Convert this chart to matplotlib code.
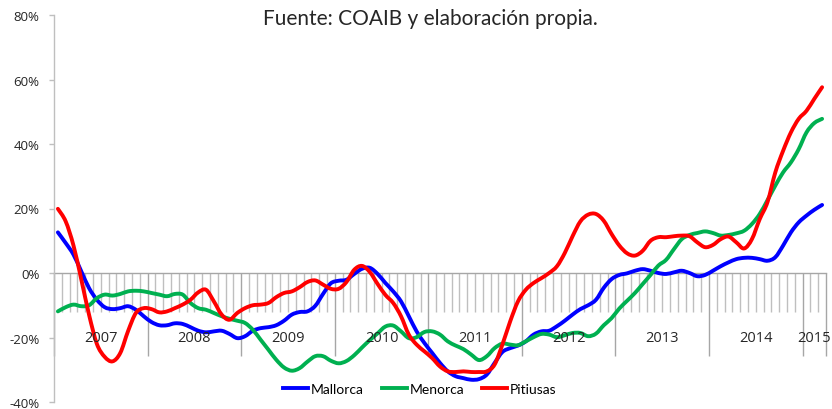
import matplotlib
matplotlib.use('Agg')
import matplotlib.pyplot as plt
import numpy as np
from matplotlib.path import Path
from matplotlib.patches import PathPatch
from matplotlib.lines import Line2D

# ---------------- data ----------------
years = ['2007', '2008', '2009', '2010', '2011', '2012', '2013', '2014', '2015']
months_per_year = [12, 12, 12, 12, 12, 12, 12, 12, 3]

mallorca = [12.6, 9.3, 5.7, 0.5, -4.7, -8.3, -10.6, -11.2, -10.9, -10.3,
            -11.4, -13.4, -15.2, -16.2, -16.2, -15.6, -15.8, -16.8, -17.9, -18.4,
            -18.1, -17.9, -18.9, -20.2, -19.6, -17.9, -17.1, -16.8, -16.2, -14.8,
            -12.9, -12.1, -11.9, -10.2, -6.5,
            -3.2, -2.4, -2.1, -0.3, 1.3, 1.6, -0.3, -3.1, -5.7, -8.8,
            -13.4, -18.1, -21.7, -24.8, -27.9, -30.5, -32.0, -32.6, -33.1, -32.9,
            -31.5, -27.9, -24.5, -23.3, -22.5, -21.2, -19.1, -18.1, -17.9, -16.5,
            -14.8, -12.9, -11.2, -10.0, -8.3, -4.6,
            -1.9, -0.6, -0.1, 0.7, 1.2, 0.7, 0.0, -0.3, 0.2, 0.7,
            0.0, -1.0, -0.6, 0.7, 2.1, 3.3, 4.3, 4.7, 4.7, 4.3,
            3.8, 4.9, 8.5, 12.6, 15.7, 17.8, 19.6, 21.1]

menorca = [-11.9, -10.6, -9.8, -10.3, -10.0, -7.8, -6.7, -7.0, -6.5, -5.7,
           -5.5, -5.7, -6.2, -6.7, -7.2, -6.5, -6.7, -9.3, -10.9, -11.4,
           -12.4, -13.4, -14.2, -14.8, -15.5, -17.6, -20.7, -23.8, -26.9, -29.3,
           -30.3, -29.5, -27.5, -25.8, -25.8,
           -27.2, -28.0, -27.3, -25.5, -23.1, -20.8, -18.7, -16.6, -16.3, -18.1,
           -20.2, -19.9, -18.3, -18.1, -19.1, -21.2, -22.5, -23.6, -25.3, -27.0,
           -25.8, -23.3, -21.9, -22.2, -22.4, -21.2, -19.9, -18.9, -19.1, -19.9,
           -19.3, -18.6, -18.6, -19.6, -18.8, -16.2,
           -14.0, -11.0, -8.6, -6.2, -3.4, -0.6, 2.3, 4.1, 7.4, 10.5,
           11.8, 12.4, 12.9, 12.4, 11.6, 11.8, 12.3, 13.1, 15.2, 18.3,
           22.6, 27.1, 31.2, 34.3, 38.4, 43.6, 46.5, 47.8]

pitiusas = [19.9, 16.0, 8.5, -2.0, -13.0, -22.0, -26.0, -27.4, -24.8, -18.0,
            -12.4, -10.9, -11.2, -12.2, -11.9, -10.9, -9.8, -8.3, -6.0, -5.2,
            -8.8, -12.9, -14.5, -12.4, -10.9, -10.0, -9.8, -9.3, -7.5, -6.2,
            -5.7, -4.4, -2.8, -2.3, -3.6,
            -4.9, -4.9, -2.8, 1.0, 2.2, 0.3, -3.4, -6.8, -9.3, -13.4,
            -19.1, -22.2, -24.3, -26.4, -29.0, -30.5, -30.7, -30.5, -30.7, -30.7,
            -30.5, -28.4, -22.2, -15.0, -8.8, -5.2, -3.1, -1.6, 0.0, 2.1,
            6.2, 11.4, 16.0, 18.1, 18.3, 16.2,
            12.1, 8.5, 6.1, 5.4, 6.9, 10.0, 11.1, 11.1, 11.4, 11.6,
            11.4, 9.5, 8.0, 8.7, 10.5, 11.3, 9.5, 7.6, 10.5, 16.7,
            22.0, 31.2, 37.9, 43.6, 47.8, 50.3, 54.0, 57.6]

series_names = ['Mallorca', 'Menorca', 'Pitiusas']
series_colors = ['#0000ff', '#00b050', '#ff0000']
y_ticks = [-40, -20, 0, 20, 40, 60, 80]
title = 'Fuente: COAIB y elaboración propia.'


def smooth_path(xs, ys):
    """Excel-style smoothed line: cubic Bezier segments through every data point."""
    pts = np.column_stack([xs, ys]).astype(float)
    verts = [pts[0]]
    codes = [Path.MOVETO]
    m = len(pts)
    for i in range(m - 1):
        p0 = pts[i - 1] if i > 0 else pts[i]
        p1 = pts[i]
        p2 = pts[i + 1]
        p3 = pts[i + 2] if i + 2 < m else pts[i + 1]
        c1 = p1 + (p2 - p0) / 6.0
        c2 = p2 - (p3 - p1) / 6.0
        verts += [c1, c2, p2]
        codes += [Path.CURVE4] * 3
    return Path(verts, codes)


# ---------------- figure ----------------
W, H = 832, 410
fig = plt.figure(figsize=(W / 100, H / 100), dpi=100)
ax = fig.add_axes([54 / W, 1 - 403 / H, (826 - 54) / W, (403 - 16) / H])

n = len(mallorca)
x = np.arange(n)
handles = []
for vals, name, col in zip([mallorca, menorca, pitiusas], series_names, series_colors):
    patch = PathPatch(smooth_path(x, vals), facecolor='none', edgecolor=col,
                      lw=2.8, capstyle='round', joinstyle='round', zorder=3,
                      transform=ax.transData)
    ax.add_patch(patch)
    handles.append(Line2D([], [], color=col, lw=2.8, label=name))

ax.set_xlim(-0.5, n - 0.5)
ax.set_ylim(-40, 80)

# y axis
ax.set_yticks(y_ticks)
ax.set_yticklabels([f'{v}%' for v in y_ticks], family='Open Sans', fontsize=9.5,
                   color='#262626')
ax.tick_params(axis='y', direction='out', length=3.6, width=1, color='#bfbfbf', pad=7)

for s in ['top', 'right']:
    ax.spines[s].set_visible(False)
ax.spines['left'].set_color('#bfbfbf')
ax.spines['left'].set_linewidth(1)
ax.spines['bottom'].set_position(('data', 0))
ax.spines['bottom'].set_color('#a6a6a6')
ax.spines['bottom'].set_linewidth(1)
ax.spines['bottom'].set_zorder(2)

# x axis: year separators (major) and month ticks (minor)
bounds = np.concatenate([[0], np.cumsum(months_per_year)]) - 0.5
ax.set_xticks(bounds)
ax.set_xticks(np.arange(n + 1) - 0.5, minor=True)
ax.tick_params(axis='x', which='major', direction='out', length=60, width=1,
               color='#a6a6a6', labelbottom=False)
ax.tick_params(axis='x', which='minor', direction='out', length=28, width=1,
               color='#bfbfbf', labelbottom=False)

for k, yr in enumerate(years):
    cx = (bounds[k] + bounds[k + 1]) / 2
    ax.text(cx, -20, yr, ha='center', va='center', family='Open Sans',
            fontsize=10.5, color='#262626')

fig.text(430 / W, 1 - 19 / H, title, ha='center', va='center', family='Lato',
         fontsize=15, color='#262626')

fig.legend(handles=handles, loc='center', bbox_to_anchor=(420 / W, 1 - 390 / H), ncol=3,
           frameon=False, prop={'family': 'Lato', 'size': 10},
           handlelength=1.8, handletextpad=0.2, columnspacing=1.3)

fig.savefig('out.png', dpi=100)
